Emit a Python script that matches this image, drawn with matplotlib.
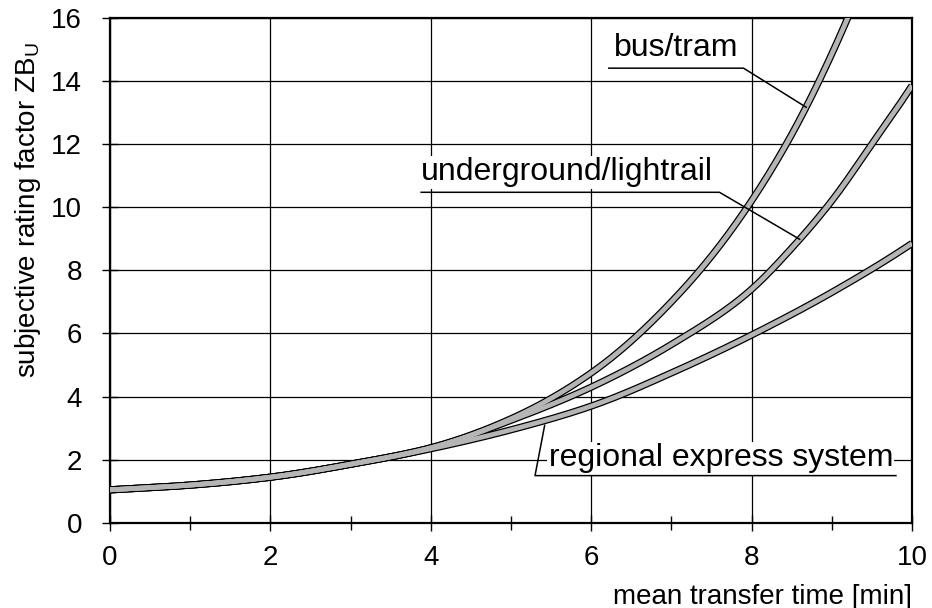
import numpy as np
import matplotlib
matplotlib.use('Agg')
import matplotlib.pyplot as plt
from matplotlib.ticker import MultipleLocator

plt.rcParams['font.family'] = ['Liberation Sans', 'DejaVu Sans']
plt.rcParams['mathtext.fontset'] = 'custom'
plt.rcParams['mathtext.rm'] = 'Liberation Sans'

# values (mean transfer time in min -> ZB_U)
bus_x = [0, 1, 2, 3, 4, 5, 6, 7, 7.5, 8, 8.5, 9, 9.3]
bus_y = [1.05, 1.2, 1.45, 1.86, 2.38, 3.3, 4.75, 7.0, 8.45, 10.2, 12.3, 14.85, 16.6]
under_x = [0, 1, 2, 3, 4, 5, 6, 7, 8, 8.5, 9, 9.5, 10]
under_y = [1.05, 1.2, 1.45, 1.86, 2.38, 3.25, 4.3, 5.65, 7.4, 8.7, 10.2, 12.0, 13.85]
regio_x = [0, 1, 2, 3, 4, 5, 6, 7, 8, 9, 10]
regio_y = [1.05, 1.2, 1.45, 1.86, 2.35, 2.95, 3.7, 4.75, 5.95, 7.3, 8.85]

labels = ['bus/tram', 'underground/lightrail', 'regional express system']


def smooth(cx, cy, xx):
    # cubic hermite through the read points, done on log(y) so it stays smooth
    cx = np.asarray(cx, float)
    ly = np.log(np.asarray(cy, float))
    d = np.diff(ly) / np.diff(cx)
    m = np.empty_like(ly)
    m[0], m[-1] = d[0], d[-1]
    m[1:-1] = (d[:-1] * np.diff(cx)[1:] + d[1:] * np.diff(cx)[:-1]) / (np.diff(cx)[1:] + np.diff(cx)[:-1])
    i = np.clip(np.searchsorted(cx, xx) - 1, 0, len(cx) - 2)
    h = cx[i + 1] - cx[i]
    t = (xx - cx[i]) / h
    h00 = 2 * t**3 - 3 * t**2 + 1
    h10 = t**3 - 2 * t**2 + t
    h01 = -2 * t**3 + 3 * t**2
    h11 = t**3 - t**2
    return np.exp(h00 * ly[i] + h10 * h * m[i] + h01 * ly[i + 1] + h11 * h * m[i + 1])


fig = plt.figure(figsize=(9.32, 6.08), dpi=100)
ax = fig.add_axes([0.118, 0.1398, 0.8605, 0.8312])
ax.set_xlim(0, 10)
ax.set_ylim(0, 16)
ax.xaxis.set_major_locator(MultipleLocator(2))
ax.xaxis.set_minor_locator(MultipleLocator(1))
ax.yaxis.set_major_locator(MultipleLocator(2))
ax.grid(True, which='major', color='black', linewidth=0.9)
ax.set_axisbelow(True)
for s in ax.spines.values():
    s.set_linewidth(1.6)
ax.tick_params(which='both', direction='inout', length=12, width=1.0,
               labelsize=20, pad=10)
ax.tick_params(which='minor', length=10)
ax.tick_params(axis='y', pad=14)

# curves: black outline with grey fill, like the scan
xs = np.linspace(0, 10, 500)
for cx, cy in [(regio_x, regio_y), (under_x, under_y), (bus_x, bus_y)]:
    xx = xs[xs <= cx[-1]]
    yy = smooth(cx, cy, xx)
    ax.plot(xx, yy, color='black', lw=5.2, solid_capstyle='butt', zorder=3)
    ax.plot(xx, yy, color='#b5b5b5', lw=3.4, solid_capstyle='butt', zorder=4)

# labels with underline + leader lines
box = dict(facecolor='white', edgecolor='none', pad=1)
ax.text(6.28, 15.05, labels[0], fontsize=23, va='center', ha='left', bbox=box, zorder=5)
bx = 8.68
ax.plot([6.22, 7.9, bx], [14.4, 14.4, smooth(bus_x, bus_y, np.array([bx]))[0]],
        color='black', lw=1.1, zorder=5)

ax.text(3.88, 11.1, labels[1], fontsize=23, va='center', ha='left', bbox=box, zorder=5)
ux = 8.6
ax.plot([3.88, 7.6, ux], [10.47, 10.47, smooth(under_x, under_y, np.array([ux]))[0]],
        color='black', lw=1.1, zorder=5)

ax.text(5.47, 2.05, labels[2], fontsize=23, va='center', ha='left', bbox=box, zorder=5)
rx = 5.42
ax.plot([rx, 5.3, 9.8], [smooth(regio_x, regio_y, np.array([rx]))[0] - 0.15, 1.5, 1.5],
        color='black', lw=1.1, zorder=5)

ax.text(1.0, -0.12, 'mean transfer time [min]', transform=ax.transAxes,
        fontsize=20, ha='right', va='top')
fig.text(0.03, 0.655, 'subjective rating factor ZB$_\\mathregular{U}$',
         fontsize=20, rotation=90, ha='center', va='center')

fig.savefig('out.png', dpi=100)
